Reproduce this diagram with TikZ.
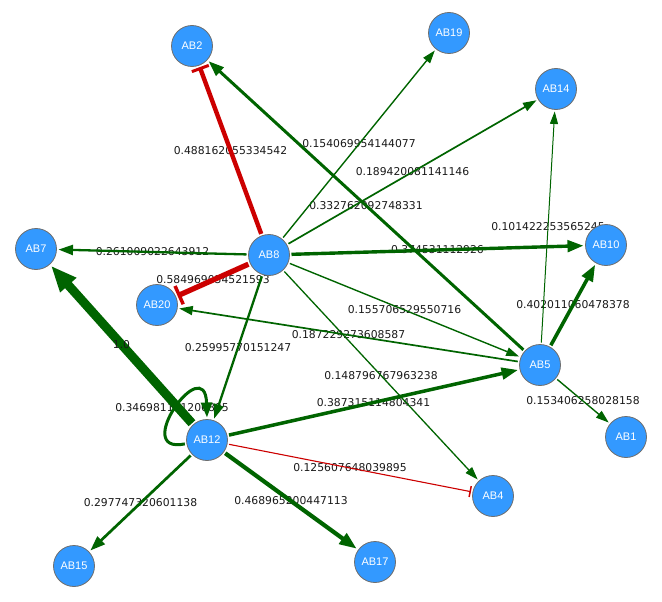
\documentclass[tikz,border=0pt]{standalone}
\usepackage{fontspec}
\setmainfont{DejaVu Sans}
\newfontfamily\nodefont{Liberation Sans}
\usetikzlibrary{arrows.meta}
\definecolor{nodeblue}{RGB}{51,153,255}
\definecolor{nodeborder}{RGB}{110,110,110}
\definecolor{edgegreen}{RGB}{0,100,0}
\definecolor{edgered}{RGB}{204,0,0}
\pgfdeclarelayer{bg}
\pgfdeclarelayer{fg}
\pgfsetlayers{bg,main,fg}
\newcommand\myedge[6]{%
  \draw[#1, line width=#5pt, #6] (#2) -- (#3);
  \begin{pgfonlayer}{bg}\path (#2) -- node[lbl]{#4} (#3);\end{pgfonlayer}}
\begin{document}
\begin{tikzpicture}[x=1pt,y=-1pt,
  gene/.style={circle, fill=nodeblue, draw=nodeborder, line width=0.8pt,
    minimum size=41pt, inner sep=0pt, outer sep=2pt, text=white,
    font=\nodefont\fontsize{11}{13}\selectfont},
  lbl/.style={font=\fontsize{10.8}{12}\selectfont, text=black!90, inner sep=0pt},
  act/.style={draw=edgegreen},
  inh/.style={draw=edgered},
  arr/.style 2 args={-{Triangle[length=#1pt,width=#2pt]}},
  bar/.style 2 args={-{Bar[width=#1pt,line width=#2pt]}},
]
\useasboundingbox (0,0) rectangle (662,602);
\begin{pgfonlayer}{fg}
\node[gene] (AB2)  at (192,46)  {AB2};
\node[gene] (AB19) at (449,33)  {AB19};
\node[gene] (AB14) at (556,89)  {AB14};
\node[gene] (AB7)  at (36,249)  {AB7};
\node[gene] (AB8)  at (269,255) {AB8};
\node[gene] (AB10) at (606,245) {AB10};
\node[gene] (AB20) at (157,305) {AB20};
\node[gene] (AB5)  at (540,365) {AB5};
\node[gene] (AB1)  at (626,437) {AB1};
\node[gene] (AB12) at (207,440) {AB12};
\node[gene] (AB4)  at (493,496) {AB4};
\node[gene] (AB15) at (74,566)  {AB15};
\node[gene] (AB17) at (375,562) {AB17};
\end{pgfonlayer}

\myedge{inh}{AB8}{AB2}{0.488162055334542}{4.4}{bar={18}{3}}
\myedge{act}{AB5}{AB2}{0.332762092748331}{3}{arr={15.5}{11}}
\myedge{act}{AB8}{AB19}{0.154069954144077}{1.4}{arr={13}{8.5}}
\myedge{act}{AB8}{AB14}{0.189420081141146}{1.7}{arr={13.5}{9}}
\myedge{act}{AB8}{AB7}{0.261009022643912}{2.3}{arr={14.5}{10}}
\myedge{act}{AB8}{AB10}{0.374531112926}{3.4}{arr={16}{11.5}}
\myedge{inh}{AB8}{AB20}{0.584969034521593}{5.3}{bar={20}{3.5}}
\myedge{act}{AB8}{AB12}{0.25995770151247}{2.3}{arr={14.5}{10}}
\myedge{act}{AB8}{AB5}{0.155706529550716}{1.4}{arr={13}{8.5}}
\myedge{act}{AB8}{AB4}{0.148796767963238}{1.3}{arr={13}{8.5}}
\myedge{act}{AB5}{AB20}{0.187229273608587}{1.7}{arr={13.5}{9}}
\myedge{act}{AB5}{AB14}{0.101422253565245}{1}{arr={12.5}{8}}
\myedge{act}{AB5}{AB10}{0.402011060478378}{3.6}{arr={16.5}{12}}
\myedge{act}{AB5}{AB1}{0.153406258028158}{1.4}{arr={13}{8.5}}
\myedge{act}{AB12}{AB5}{0.387315114804341}{3.5}{arr={16.5}{11.5}}
\myedge{inh}{AB12}{AB4}{0.125607648039895}{1.1}{bar={11}{1.5}}
\myedge{act}{AB12}{AB15}{0.297747320601138}{2.7}{arr={15}{10.5}}
\myedge{act}{AB12}{AB17}{0.468965200447113}{4.2}{arr={17.5}{12.5}}

\draw[act, line width=3pt, arr={15}{11}] (AB12.190) .. controls (130,455) and (205,350) .. (AB12.north);
\begin{pgfonlayer}{bg}
\node[lbl] (looplbl) at (172,408) {0.346981131206805};
\end{pgfonlayer}

\draw[act, line width=9pt, arr={26}{20}] (AB12) -- (AB7);
\path (AB12) -- node[lbl] (onelbl) {1.0} (AB7);
\end{tikzpicture}
\end{document}
